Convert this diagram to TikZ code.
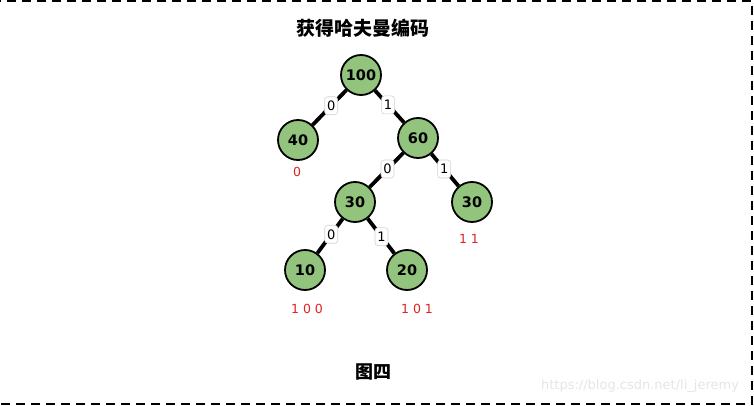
\documentclass[tikz,border=0pt]{standalone}
\usepackage{fontspec}
\setmainfont{DejaVu Sans}
\newfontfamily\cjk{Noto Sans CJK SC}
\usetikzlibrary{calc}
\definecolor{nodegreen}{HTML}{93C47D}
\definecolor{codered}{HTML}{E0231E}

\begin{document}
\begin{tikzpicture}[x=1pt,y=-1pt]
  %%Styles for the tree
  \tikzset{tree node/.style={draw,circle,line width=1.8pt,fill=nodegreen,minimum size=40pt,inner sep=0pt,font=\bfseries\fontsize{14.5}{14.5}\selectfont}}
  \tikzset{tree edge/.style={draw,line width=3.8pt}}
  \tikzset{bit label/.style={draw=black!18,line width=0.6pt,fill=white,rounded corners=3pt,inner sep=1.5pt,minimum height=18pt,minimum width=13pt,font=\fontsize{13}{13}\selectfont}}
  \tikzset{code label/.style={text=codered,font=\fontsize{12.5}{12.5}\selectfont}}
  \useasboundingbox (0,0) rectangle (754,406);
  %%Frame
  \draw[line width=1.6pt,dash pattern=on 9pt off 6pt] (-8,1) -- (752,1) -- (752,404) -- (-8,404);
  %%Coordinates of the tree nodes
  \path (361,75) coordinate (r) ++(-63,65) coordinate (a) ++(120,-2) coordinate (b);
  \path (b) ++(-63,64) coordinate (c) ++(117,0) coordinate (d);
  \path (c) ++(-50,68) coordinate (e) ++(102,0) coordinate (f);
  %%Place nodes at each point using the foreach construct
  \foreach \at/\w in {r/100,a/40,b/60,c/30,d/30,e/10,f/20}{
    \node[tree node] (n\at) at (\at) {\w};
  }
  %%Titles
  \node[font=\cjk\bfseries\fontsize{19}{19}\selectfont] (title) at (363,28) {获得哈夫曼编码};
  \node[font=\cjk\bfseries\fontsize{18}{18}\selectfont] (caption) at (373,372) {图四};
  \node[text=black!10,font=\fontsize{13}{13}\selectfont] (mark) at (640,386) {https://blog.csdn.net/li\_jeremy};
  %%Drawing the edges
  \path[tree edge] (nr) -- node[bit label,pos=.45] {0} (na);
  \path[tree edge] (nr) -- node[bit label,pos=.45] {1} (nb);
  \path[tree edge] (nb) -- node[bit label,pos=.47] {0} (nc);
  \path[tree edge] (nb) -- node[bit label,pos=.47] {1} (nd);
  \path[tree edge] (nc) -- node[bit label,pos=.45] {0} (ne);
  \path[tree edge] (nc) -- node[bit label,pos=.52] {1} (nf);
  %%Codes of the leaves
  \node[code label] (ca) at (297,172) {0};
  \node[code label] (cd) at (469,239) {1 1};
  \node[code label] (ce) at (307,309) {1 0 0};
  \node[code label] (cf) at (417,309) {1 0 1};
\end{tikzpicture}
\end{document}
